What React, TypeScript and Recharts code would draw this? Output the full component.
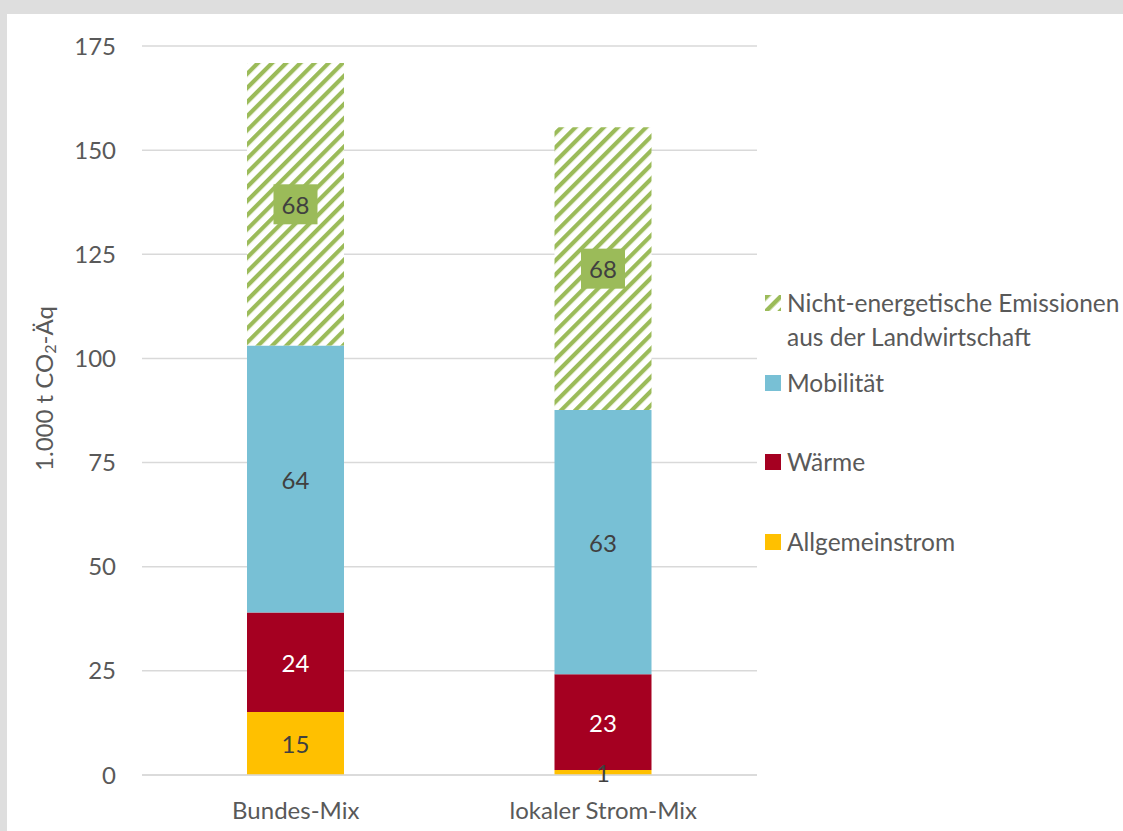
import {
  Bar,
  BarChart,
  CartesianGrid,
  Label,
  LabelList,
  XAxis,
  YAxis,
} from "recharts";

const CATEGORIES = ["Bundes-Mix", "lokaler Strom-Mix"];
const ALLGEMEINSTROM = [15.1, 1.2];
const WAERME = [23.9, 23.0];
const MOBILITAET = [64.1, 63.4];
const LANDWIRTSCHAFT = [67.8, 67.9];
const Y_TICKS = [0, 25, 50, 75, 100, 125, 150, 175];

const FONT = "Lato, 'Open Sans', sans-serif";
const TEXT = "#595959";
const GREEN = "#9bbb59";
const FS = 24;

const SERIES = [
  { key: "allgemein", name: "Allgemeinstrom", color: "#ffc000", labelColor: "#404040" },
  { key: "waerme", name: "Wärme", color: "#a50021", labelColor: "#ffffff" },
  { key: "mobil", name: "Mobilität", color: "#78c0d5", labelColor: "#404040" },
  {
    key: "land",
    name: "Nicht-energetische Emissionen aus der Landwirtschaft",
    color: "url(#hatch)",
    labelColor: "#404040",
  },
];

const data = CATEGORIES.map((c, i) => ({
  name: c,
  allgemein: ALLGEMEINSTROM[i],
  waerme: WAERME[i],
  mobil: MOBILITAET[i],
  land: LANDWIRTSCHAFT[i],
}));

function plainLabel(color: string) {
  return (props: any) => {
    const { x, y, width, height, value } = props;
    return (
      <text
        x={x + width / 2}
        y={y + height / 2}
        textAnchor="middle"
        dominantBaseline="central"
        fill={color}
        fontSize={FS}
        fontFamily={FONT}
      >
        {Math.round(value)}
      </text>
    );
  };
}

function boxedLabel(props: any) {
  const { x, y, width, height, value } = props;
  const cx = x + width / 2;
  const cy = y + height / 2;
  return (
    <g>
      <rect x={cx - 22} y={cy - 20} width={44} height={40} fill={GREEN} />
      <text
        x={cx}
        y={cy}
        textAnchor="middle"
        dominantBaseline="central"
        fill="#404040"
        fontSize={FS}
        fontFamily={FONT}
      >
        {Math.round(value)}
      </text>
    </g>
  );
}

const LEGEND_ROWS = [
  { top: 0, lines: ["Nicht-energetische Emissionen", "aus der Landwirtschaft"], fill: "url(#hatchLegend)" },
  { top: 80, lines: ["Mobilität"], fill: "#78c0d5" },
  { top: 159, lines: ["Wärme"], fill: "#a50021" },
  { top: 239, lines: ["Allgemeinstrom"], fill: "#ffc000" },
];

function ChartLegend() {
  return (
    <div
      style={{
        position: "absolute",
        left: 758,
        top: 272,
        width: 360,
        fontFamily: FONT,
        fontSize: 24.5,
        color: TEXT,
      }}
    >
      {LEGEND_ROWS.map((r) => (
        <div key={r.lines[0]} style={{ position: "absolute", top: r.top, left: 0 }}>
          <svg width={16} height={16} style={{ position: "absolute", left: 0, top: 9 }}>
            <rect width={16} height={16} fill={r.fill} />
          </svg>
          <div style={{ marginLeft: 22, lineHeight: "34px", whiteSpace: "nowrap" }}>
            {r.lines.map((l) => (
              <div key={l}>{l}</div>
            ))}
          </div>
        </div>
      ))}
    </div>
  );
}

function YLabel(props: any) {
  const { viewBox } = props;
  const cx = viewBox.x + 36;
  const cy = viewBox.y + viewBox.height / 2 - 22;
  return (
    <text
      x={cx}
      y={cy}
      transform={`rotate(-90, ${cx}, ${cy})`}
      textAnchor="middle"
      dominantBaseline="central"
      fill={TEXT}
      fontSize={FS}
      fontFamily={FONT}
    >
      1.000 t CO
      <tspan fontSize={16} dy={6}>
        2
      </tspan>
      <tspan dy={-6}>-Äq</tspan>
    </text>
  );
}

export default function App() {
  return (
    <div
      style={{
        position: "absolute",
        left: 0,
        top: 0,
        width: 1123,
        height: 831,
        background: "#dedede",
        overflow: "hidden",
        fontFamily: FONT,
      }}
    >
      <svg width={0} height={0} style={{ position: "absolute" }}>
        <defs>
          <pattern
            id="hatchLegend"
            patternUnits="userSpaceOnUse"
            width={10}
            height={10}
            patternTransform="rotate(45)"
          >
            <rect width={10} height={10} fill="#ffffff" />
            <rect width={4.5} height={10} fill={GREEN} />
          </pattern>
        </defs>
      </svg>
      <div
        style={{
          position: "absolute",
          left: 7,
          top: 14,
          width: 1116,
          height: 817,
          background: "#ffffff",
        }}
      >
        <BarChart
          width={1116}
          height={817}
          data={data}
          margin={{ top: 32, right: 366, left: 0, bottom: 0 }}
          barSize={97}
        >
          <defs>
            <pattern
              id="hatch"
              patternUnits="userSpaceOnUse"
              width={10}
              height={10}
              patternTransform="rotate(45)"
            >
              <rect width={10} height={10} fill="#ffffff" />
              <rect width={4.2} height={10} fill={GREEN} />
            </pattern>
          </defs>
          <CartesianGrid vertical={false} stroke="#d9d9d9" strokeWidth={1.5} />
          <XAxis
            dataKey="name"
            height={56}
            interval={0}
            tickLine={false}
            tickSize={0}
            tickMargin={27}
            axisLine={{ stroke: "#d9d9d9", strokeWidth: 1.5 }}
            tick={{ fill: TEXT, fontSize: FS, fontFamily: FONT }}
          />
          <YAxis
            width={135}
            domain={[0, 175]}
            ticks={Y_TICKS}
            interval={0}
            tickLine={false}
            tickSize={0}
            tickMargin={26}
            axisLine={false}
            tick={{ fill: TEXT, fontSize: FS, fontFamily: FONT }}
          >
            <Label content={YLabel} />
          </YAxis>
          {SERIES.map((s) => (
            <Bar
              key={s.key}
              dataKey={s.key}
              name={s.name}
              stackId="a"
              fill={s.color}
              isAnimationActive={false}
            >
              <LabelList
                dataKey={s.key}
                content={s.key === "land" ? boxedLabel : plainLabel(s.labelColor)}
              />
            </Bar>
          ))}
        </BarChart>
        <ChartLegend />
      </div>
    </div>
  );
}
